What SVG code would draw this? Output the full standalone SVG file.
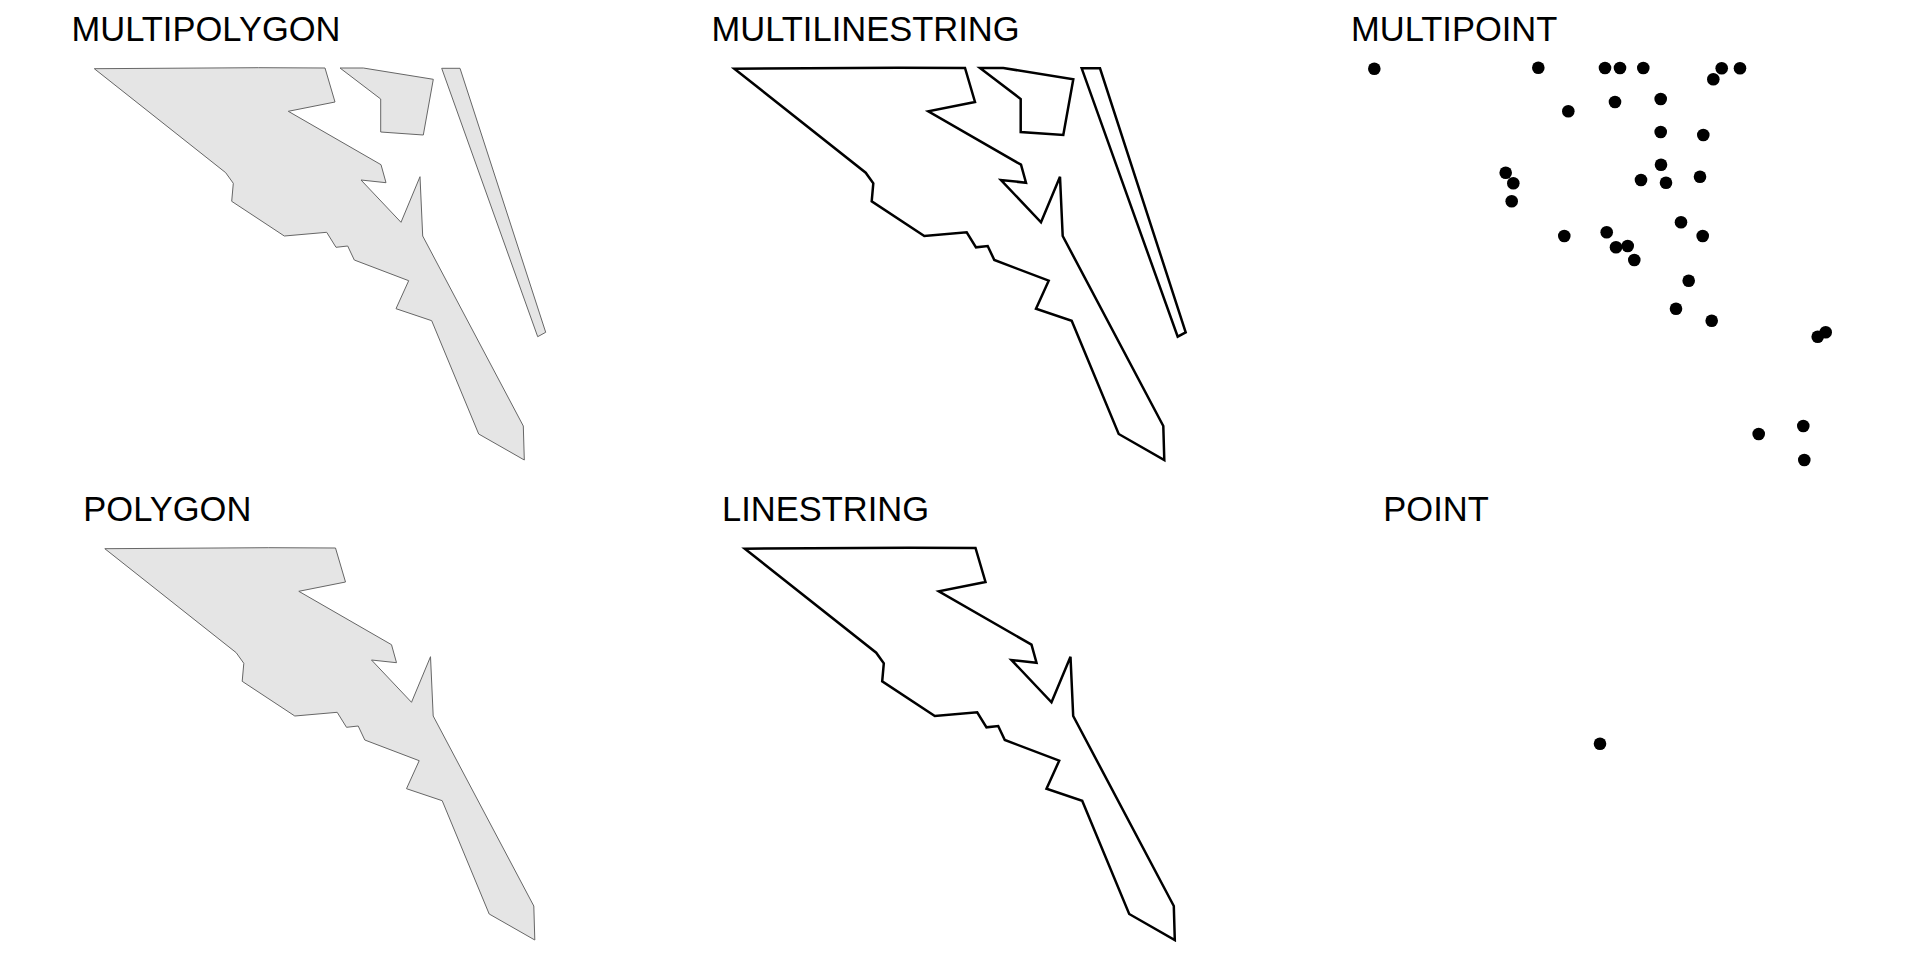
<svg xmlns="http://www.w3.org/2000/svg" xmlns:xlink="http://www.w3.org/1999/xlink" width="1920" height="960" viewBox="0 0 1920 960">
<style>
.lbl{font-family:"Liberation Sans",Arial,Helvetica,sans-serif;font-size:34.5px;fill:#000}
.poly{fill:#e5e5e5;stroke:#666;stroke-width:1;stroke-linejoin:miter}
.line{fill:none;stroke:#000;stroke-width:2.5;stroke-linejoin:miter}
.pt{fill:#000}
</style>
<defs>
<polygon id="mainShape" points="94.3,68.7 258.3,67.7 325,68 335,102 288.3,111.3 381,164.7 386,182.7 361,180 401,222.3 420,176.7 422.7,236 523.3,426 524.3,460 478.7,434 431.7,320.7 396,308.7 408.7,280.7 354.3,260 347.7,246 336,247.3 326.7,232.3 284.3,236 231.7,201.3 233.3,183.3 225.7,172.7"/>
<polygon id="secondShape" points="340,68 363.3,68 433.3,79.3 423.3,135 380.7,132 380.7,99"/>
<polygon id="sliverShape" points="441.7,68.3 460,68.3 545.7,332.3 537.7,336.7"/>
</defs>
<rect width="1920" height="960" fill="#fff"/>

<g id="multipolygon">
<text class="lbl" x="71.5" y="41">MULTIPOLYGON</text>
<use xlink:href="#mainShape" class="poly"/>
<use xlink:href="#secondShape" class="poly"/>
<use xlink:href="#sliverShape" class="poly"/>
</g>

<g id="multilinestring">
<text class="lbl" x="711.5" y="41">MULTILINESTRING</text>
<g transform="translate(640,0)">
<use xlink:href="#mainShape" class="line"/>
<use xlink:href="#secondShape" class="line"/>
<use xlink:href="#sliverShape" class="line"/>
</g>
</g>

<g id="multipoint">
<text class="lbl" x="1351" y="41">MULTIPOINT</text>
<g transform="translate(1280,0)">
<circle class="pt" cx="94.3" cy="68.7" r="6.3"/>
<circle class="pt" cx="258.3" cy="67.7" r="6.3"/>
<circle class="pt" cx="325" cy="68" r="6.3"/>
<circle class="pt" cx="335" cy="102" r="6.3"/>
<circle class="pt" cx="288.3" cy="111.3" r="6.3"/>
<circle class="pt" cx="381" cy="164.7" r="6.3"/>
<circle class="pt" cx="386" cy="182.7" r="6.3"/>
<circle class="pt" cx="361" cy="180" r="6.3"/>
<circle class="pt" cx="401" cy="222.3" r="6.3"/>
<circle class="pt" cx="420" cy="176.7" r="6.3"/>
<circle class="pt" cx="422.7" cy="236" r="6.3"/>
<circle class="pt" cx="523.3" cy="426" r="6.3"/>
<circle class="pt" cx="524.3" cy="460" r="6.3"/>
<circle class="pt" cx="478.7" cy="434" r="6.3"/>
<circle class="pt" cx="431.7" cy="320.7" r="6.3"/>
<circle class="pt" cx="396" cy="308.7" r="6.3"/>
<circle class="pt" cx="408.7" cy="280.7" r="6.3"/>
<circle class="pt" cx="354.3" cy="260" r="6.3"/>
<circle class="pt" cx="347.7" cy="246" r="6.3"/>
<circle class="pt" cx="336" cy="247.3" r="6.3"/>
<circle class="pt" cx="326.7" cy="232.3" r="6.3"/>
<circle class="pt" cx="284.3" cy="236" r="6.3"/>
<circle class="pt" cx="231.7" cy="201.3" r="6.3"/>
<circle class="pt" cx="233.3" cy="183.3" r="6.3"/>
<circle class="pt" cx="225.7" cy="172.7" r="6.3"/>
<circle class="pt" cx="340" cy="68" r="6.3"/>
<circle class="pt" cx="363.3" cy="68" r="6.3"/>
<circle class="pt" cx="433.3" cy="79.3" r="6.3"/>
<circle class="pt" cx="423.3" cy="135" r="6.3"/>
<circle class="pt" cx="380.7" cy="132" r="6.3"/>
<circle class="pt" cx="380.7" cy="99" r="6.3"/>
<circle class="pt" cx="441.7" cy="68.3" r="6.3"/>
<circle class="pt" cx="460" cy="68.3" r="6.3"/>
<circle class="pt" cx="545.7" cy="332.3" r="6.3"/>
<circle class="pt" cx="537.7" cy="336.7" r="6.3"/>
</g>
</g>

<g id="polygon">
<text class="lbl" x="83.3" y="521">POLYGON</text>
<use xlink:href="#mainShape" class="poly" transform="translate(10.5,480)"/>
</g>

<g id="linestring">
<text class="lbl" x="722" y="521">LINESTRING</text>
<use xlink:href="#mainShape" class="line" transform="translate(650.5,480)"/>
</g>

<g id="point">
<text class="lbl" x="1383.3" y="521">POINT</text>
<circle class="pt" cx="1600" cy="743.7" r="6.3"/>
</g>

<g id="connectors"/>
</svg>
